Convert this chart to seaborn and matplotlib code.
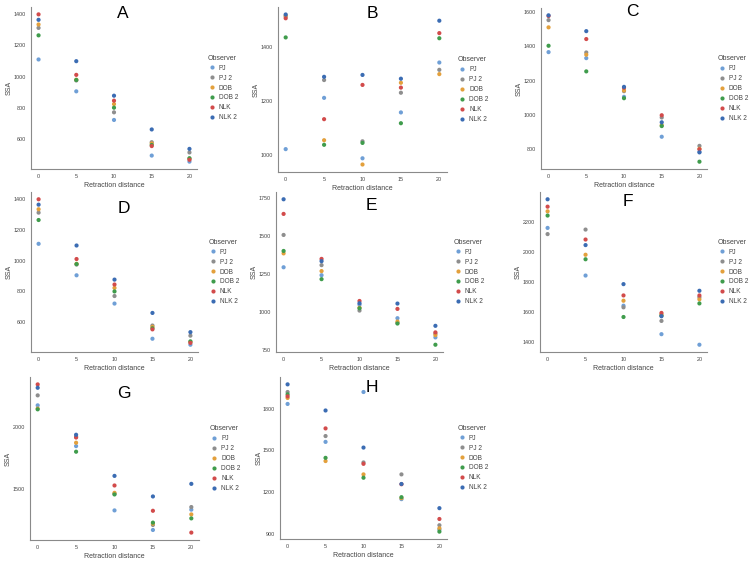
import matplotlib
matplotlib.use("Agg")
import matplotlib.pyplot as plt
import seaborn as sns
import pandas as pd

# values, rows follow the observer order
distances = [0, 5, 10, 15, 20]
observers = ["PJ", "PJ 2", "DOB", "DOB 2", "NLK", "NLK 2"]
colours = ["#6f9fd6", "#8e8e8e", "#e3a03c", "#3f9c4c", "#d24b4b", "#3b6cb3"]

ssa_A = [[1110, 905, 721, 492, 453],
         [1313, 975, 770, 578, 512],
         [1335, 980, 823, 570, 471],
         [1265, 978, 800, 560, 475],
         [1400, 1011, 845, 553, 465],
         [1365, 1099, 877, 660, 535]]
ssa_B = [[1020, 1210, 986, 1156, 1341],
         [1512, 1276, 1049, 1229, 1314],
         [1515, 1053, 963, 1266, 1298],
         [1434, 1036, 1043, 1116, 1431],
         [1505, 1131, 1258, 1248, 1450],
         [1519, 1288, 1295, 1281, 1496]]
ssa_C = [[1365, 1330, 1105, 873, 785],
         [1551, 1363, 1138, 985, 820],
         [1509, 1350, 1142, 940, 803],
         [1402, 1253, 1097, 935, 728],
         [1575, 1441, 1158, 998, 800],
         [1579, 1487, 1163, 957, 782]]
ssa_D = [[1110, 905, 721, 492, 453],
         [1313, 975, 770, 578, 512],
         [1335, 980, 823, 570, 471],
         [1265, 978, 800, 560, 475],
         [1400, 1011, 845, 553, 465],
         [1365, 1099, 877, 660, 535]]
ssa_E = [[1295, 1243, 1050, 961, 835],
         [1507, 1309, 1011, 930, 860],
         [1386, 1270, 1030, 939, 850],
         [1402, 1217, 1026, 926, 787],
         [1645, 1350, 1074, 1022, 868],
         [1741, 1335, 1059, 1057, 911]]
ssa_F = [[2160, 1844, 1644, 1455, 1385],
         [2119, 2149, 1633, 1543, 1700],
         [2270, 1982, 1677, 1585, 1686],
         [2242, 1952, 1569, 1578, 1659],
         [2301, 2083, 1712, 1596, 1712],
         [2350, 2046, 1787, 1574, 1743]]
ssa_G = [[2170, 1843, 1327, 1170, 1333],
         [2250, 1918, 1460, 1210, 1354],
         [2144, 1870, 1468, 1220, 1295],
         [2138, 1798, 1455, 1229, 1263],
         [2338, 1912, 1527, 1324, 1149],
         [2311, 1934, 1604, 1439, 1540]]
ssa_H = [[1833, 1560, 1919, 1148, 929],
         [1919, 1602, 1412, 1326, 960],
         [1876, 1422, 1326, 1155, 938],
         [1902, 1445, 1302, 1162, 914],
         [1888, 1657, 1402, 1255, 1005],
         [1974, 1786, 1519, 1257, 1083]]

yticks_A = [600, 800, 1000, 1200, 1400]
yticks_B = [1000, 1200, 1400]
yticks_C = [800, 1000, 1200, 1400, 1600]
yticks_E = [750, 1000, 1250, 1500, 1750]
yticks_F = [1400, 1600, 1800, 2000, 2200]
yticks_G = [1500, 2000]
yticks_H = [900, 1200, 1500, 1800]

sns.set_style("white")
plt.rcParams["font.family"] = ["Liberation Sans", "DejaVu Sans"]

W, H = 750, 561
fig = plt.figure(figsize=(7.5, 5.61), dpi=100)

# letter, data, y ticks, axes box in pixels (left, top, right, bottom), letter position
panels = [
    ("A", ssa_A, yticks_A, (31, 7, 197, 169), (123, 14)),
    ("B", ssa_B, yticks_B, (278, 7, 447, 172), (372, 14)),
    ("C", ssa_C, yticks_C, (541, 8, 707, 169), (632, 12)),
    ("D", ssa_D, yticks_A, (31, 192, 198, 352), (124, 208)),
    ("E", ssa_E, yticks_E, (276, 192, 443, 352), (371, 206)),
    ("F", ssa_F, yticks_F, (540, 192, 707, 352), (628, 202)),
    ("G", ssa_G, yticks_G, (30, 377, 199, 540), (124, 393)),
    ("H", ssa_H, yticks_H, (280, 377, 447, 539), (372, 387)),
]

grey = "#444444"
for letter, values, yt, (l, t, r, b), (lx, ly) in panels:
    ax = fig.add_axes([l / W, 1 - b / H, (r - l) / W, (b - t) / H])
    rows = []
    for obs, vals in zip(observers, values):
        for d, v in zip(distances, vals):
            rows.append({"Retraction distance": d, "SSA": v, "Observer": obs})
    df = pd.DataFrame(rows)
    sns.scatterplot(data=df, x="Retraction distance", y="SSA", hue="Observer",
                    hue_order=observers, palette=colours, s=9, linewidth=0, ax=ax)
    ax.set_xticks(distances)
    ax.set_yticks(yt)
    sns.despine(ax=ax)
    for side in ["left", "bottom"]:
        ax.spines[side].set_color("#8a8a8a")
        ax.spines[side].set_linewidth(0.8)
    ax.tick_params(labelsize=3.9, labelcolor=grey, color="#8a8a8a",
                   length=2, width=0.6, pad=1.5)
    ax.set_xlabel("Retraction distance", fontsize=5, color=grey, labelpad=2)
    ax.set_ylabel("SSA", fontsize=5, color=grey, labelpad=0.5)
    sns.move_legend(ax, "center left", bbox_to_anchor=(1.03, 0.5), frameon=False,
                    title="Observer", fontsize=4.7, title_fontsize=5,
                    handletextpad=0.1, labelspacing=0.45, borderpad=0)
    leg = ax.get_legend()
    leg.get_title().set_color(grey)
    for txt in leg.get_texts():
        txt.set_color(grey)
    fig.text(lx / W, 1 - ly / H, letter, ha="center", va="center",
             fontsize=12.5, color="black")

fig.savefig("out.png", dpi=100)
